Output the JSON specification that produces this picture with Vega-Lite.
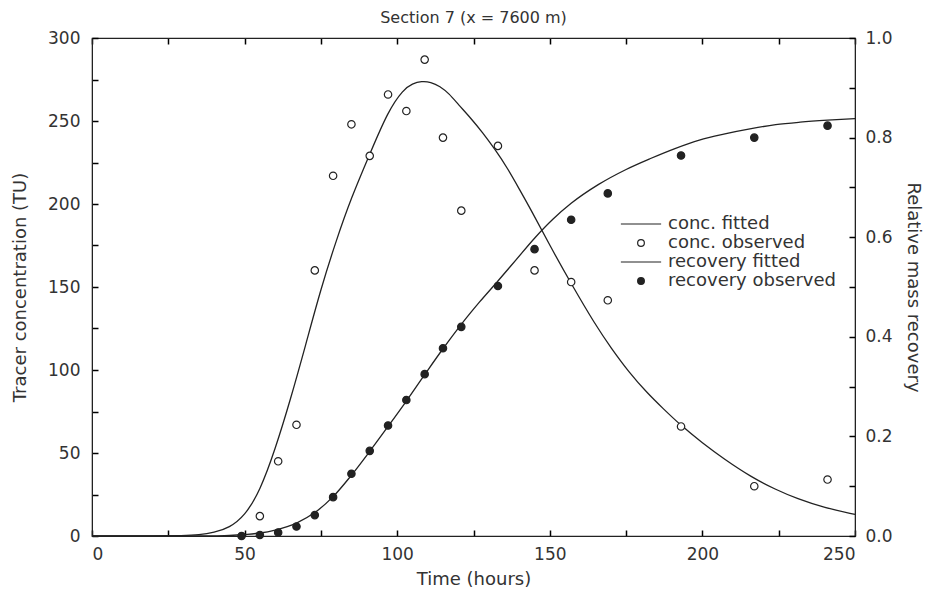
{
  "$schema": "https://vega.github.io/schema/vega-lite/v6.json",
  "width": 763,
  "height": 498,
  "autosize": {"type": "none"},
  "padding": {"left": 92, "top": 38, "right": 74, "bottom": 57},
  "background": "white",
  "title": {"text": "Section 7  (x = 7600 m)", "fontSize": 16, "fontWeight": "normal", "font": "DejaVu Sans", "color": "#333", "offset": 3, "anchor": "middle"},
  "config": {
    "font": "DejaVu Sans",
    "view": {"stroke": "#222", "strokeWidth": 1.2},
    "axis": {
      "labelFont": "DejaVu Sans", "titleFont": "DejaVu Sans",
      "labelFontSize": 17, "titleFontSize": 18, "titleFontWeight": "normal",
      "labelColor": "#333", "titleColor": "#333", "grid": false
    }
  },
  "data": {"values": [
    {"t": 0, "v": 0, "s": "conc. fitted"},
    {"t": 20, "v": 0, "s": "conc. fitted"},
    {"t": 30, "v": 0.2, "s": "conc. fitted"},
    {"t": 35, "v": 0.6, "s": "conc. fitted"},
    {"t": 40, "v": 2, "s": "conc. fitted"},
    {"t": 45, "v": 5, "s": "conc. fitted"},
    {"t": 50, "v": 12, "s": "conc. fitted"},
    {"t": 55, "v": 27, "s": "conc. fitted"},
    {"t": 60, "v": 52, "s": "conc. fitted"},
    {"t": 65, "v": 82, "s": "conc. fitted"},
    {"t": 70, "v": 115, "s": "conc. fitted"},
    {"t": 75, "v": 149, "s": "conc. fitted"},
    {"t": 80, "v": 178, "s": "conc. fitted"},
    {"t": 85, "v": 204, "s": "conc. fitted"},
    {"t": 91, "v": 230, "s": "conc. fitted"},
    {"t": 97, "v": 256, "s": "conc. fitted"},
    {"t": 102, "v": 269, "s": "conc. fitted"},
    {"t": 105, "v": 272.5, "s": "conc. fitted"},
    {"t": 108, "v": 274, "s": "conc. fitted"},
    {"t": 111, "v": 273.5, "s": "conc. fitted"},
    {"t": 114, "v": 271, "s": "conc. fitted"},
    {"t": 117, "v": 266.5, "s": "conc. fitted"},
    {"t": 120, "v": 260, "s": "conc. fitted"},
    {"t": 124, "v": 252, "s": "conc. fitted"},
    {"t": 128, "v": 243, "s": "conc. fitted"},
    {"t": 132, "v": 233, "s": "conc. fitted"},
    {"t": 136, "v": 222, "s": "conc. fitted"},
    {"t": 140, "v": 209, "s": "conc. fitted"},
    {"t": 144, "v": 196, "s": "conc. fitted"},
    {"t": 150, "v": 175, "s": "conc. fitted"},
    {"t": 157, "v": 152, "s": "conc. fitted"},
    {"t": 165, "v": 127, "s": "conc. fitted"},
    {"t": 170, "v": 113.5, "s": "conc. fitted"},
    {"t": 176, "v": 98.5, "s": "conc. fitted"},
    {"t": 182, "v": 86, "s": "conc. fitted"},
    {"t": 187, "v": 77, "s": "conc. fitted"},
    {"t": 193, "v": 66.5, "s": "conc. fitted"},
    {"t": 200, "v": 56, "s": "conc. fitted"},
    {"t": 207, "v": 46.5, "s": "conc. fitted"},
    {"t": 216, "v": 35.5, "s": "conc. fitted"},
    {"t": 224, "v": 28, "s": "conc. fitted"},
    {"t": 231, "v": 22.5, "s": "conc. fitted"},
    {"t": 240, "v": 17, "s": "conc. fitted"},
    {"t": 250, "v": 13, "s": "conc. fitted"},

    {"t": 55, "v": 12, "s": "conc. observed"},
    {"t": 61, "v": 45, "s": "conc. observed"},
    {"t": 67, "v": 67, "s": "conc. observed"},
    {"t": 73, "v": 160, "s": "conc. observed"},
    {"t": 79, "v": 217, "s": "conc. observed"},
    {"t": 85, "v": 248, "s": "conc. observed"},
    {"t": 91, "v": 229, "s": "conc. observed"},
    {"t": 97, "v": 266, "s": "conc. observed"},
    {"t": 103, "v": 256, "s": "conc. observed"},
    {"t": 109, "v": 287, "s": "conc. observed"},
    {"t": 115, "v": 240, "s": "conc. observed"},
    {"t": 121, "v": 196, "s": "conc. observed"},
    {"t": 133, "v": 235, "s": "conc. observed"},
    {"t": 145, "v": 160, "s": "conc. observed"},
    {"t": 157, "v": 153, "s": "conc. observed"},
    {"t": 169, "v": 142, "s": "conc. observed"},
    {"t": 193, "v": 66, "s": "conc. observed"},
    {"t": 217, "v": 30, "s": "conc. observed"},
    {"t": 241, "v": 34, "s": "conc. observed"},

    {"t": 0, "v": 0, "s": "recovery fitted"},
    {"t": 40, "v": 0, "s": "recovery fitted"},
    {"t": 45, "v": 0.001, "s": "recovery fitted"},
    {"t": 50, "v": 0.003, "s": "recovery fitted"},
    {"t": 55, "v": 0.006, "s": "recovery fitted"},
    {"t": 60, "v": 0.012, "s": "recovery fitted"},
    {"t": 67, "v": 0.026, "s": "recovery fitted"},
    {"t": 73, "v": 0.047, "s": "recovery fitted"},
    {"t": 79, "v": 0.079, "s": "recovery fitted"},
    {"t": 85, "v": 0.122, "s": "recovery fitted"},
    {"t": 91, "v": 0.170, "s": "recovery fitted"},
    {"t": 97, "v": 0.220, "s": "recovery fitted"},
    {"t": 103, "v": 0.271, "s": "recovery fitted"},
    {"t": 109, "v": 0.324, "s": "recovery fitted"},
    {"t": 115, "v": 0.376, "s": "recovery fitted"},
    {"t": 121, "v": 0.425, "s": "recovery fitted"},
    {"t": 127, "v": 0.470, "s": "recovery fitted"},
    {"t": 133, "v": 0.512, "s": "recovery fitted"},
    {"t": 139, "v": 0.555, "s": "recovery fitted"},
    {"t": 145, "v": 0.598, "s": "recovery fitted"},
    {"t": 151, "v": 0.636, "s": "recovery fitted"},
    {"t": 157, "v": 0.668, "s": "recovery fitted"},
    {"t": 166, "v": 0.706, "s": "recovery fitted"},
    {"t": 175, "v": 0.736, "s": "recovery fitted"},
    {"t": 183, "v": 0.758, "s": "recovery fitted"},
    {"t": 191, "v": 0.778, "s": "recovery fitted"},
    {"t": 199, "v": 0.795, "s": "recovery fitted"},
    {"t": 207, "v": 0.807, "s": "recovery fitted"},
    {"t": 216, "v": 0.818, "s": "recovery fitted"},
    {"t": 224, "v": 0.826, "s": "recovery fitted"},
    {"t": 232, "v": 0.831, "s": "recovery fitted"},
    {"t": 241, "v": 0.835, "s": "recovery fitted"},
    {"t": 250, "v": 0.838, "s": "recovery fitted"},

    {"t": 49, "v": 0.0, "s": "recovery observed"},
    {"t": 55, "v": 0.002, "s": "recovery observed"},
    {"t": 61, "v": 0.007, "s": "recovery observed"},
    {"t": 67, "v": 0.019, "s": "recovery observed"},
    {"t": 73, "v": 0.042, "s": "recovery observed"},
    {"t": 79, "v": 0.078, "s": "recovery observed"},
    {"t": 85, "v": 0.125, "s": "recovery observed"},
    {"t": 91, "v": 0.171, "s": "recovery observed"},
    {"t": 97, "v": 0.222, "s": "recovery observed"},
    {"t": 103, "v": 0.273, "s": "recovery observed"},
    {"t": 109, "v": 0.325, "s": "recovery observed"},
    {"t": 115, "v": 0.377, "s": "recovery observed"},
    {"t": 121, "v": 0.420, "s": "recovery observed"},
    {"t": 133, "v": 0.502, "s": "recovery observed"},
    {"t": 145, "v": 0.576, "s": "recovery observed"},
    {"t": 157, "v": 0.635, "s": "recovery observed"},
    {"t": 169, "v": 0.688, "s": "recovery observed"},
    {"t": 193, "v": 0.764, "s": "recovery observed"},
    {"t": 217, "v": 0.800, "s": "recovery observed"},
    {"t": 241, "v": 0.824, "s": "recovery observed"}
  ]},
  "layer": [
    {
      "layer": [
        {
          "transform": [{"filter": "datum.s == 'conc. fitted'"}],
          "mark": {"type": "line", "color": "#222", "strokeWidth": 1.3, "interpolate": "basis"},
          "encoding": {
            "x": {"field": "t", "type": "quantitative", "scale": {"domain": [0, 250], "nice": false},
              "axis": {"title": "Time (hours)", "values": [0, 25, 50, 75, 100, 125, 150, 175, 200, 225, 250],
                "labelExpr": "datum.value % 50 == 0 ? datum.label : ''",
                "domainColor": "#222", "tickSize": -6, "tickColor": "#000", "tickWidth": 1.5,
                "labelPadding": 16, "titlePadding": 8}},
            "y": {"field": "v", "type": "quantitative", "scale": {"domain": [0, 300], "nice": false},
              "axis": {"title": "Tracer concentration (TU)", "values": [0, 25, 50, 75, 100, 125, 150, 175, 200, 225, 250, 275, 300],
                "labelExpr": "datum.value % 50 == 0 ? datum.label : ''",
                "domainColor": "#222", "tickSize": -6, "tickColor": "#000", "tickWidth": 1.5,
                "labelPadding": 18, "titlePadding": 18}}
          }
        },
        {
          "transform": [{"filter": "datum.s == 'conc. observed'"}],
          "mark": {"type": "point", "filled": true, "strokeWidth": 1.2, "size": 55, "opacity": 1},
          "encoding": {
            "x": {"field": "t", "type": "quantitative"},
            "y": {"field": "v", "type": "quantitative"},
            "shape": {"field": "s", "type": "nominal",
              "scale": {"domain": ["conc. fitted", "conc. observed", "recovery fitted", "recovery observed"], "range": ["M-6,0L6,0", "circle", "M-6,0L6,0", "circle"]},
              "legend": {"title": null, "orient": "none", "legendX": 540, "legendY": 177, "labelFontSize": 18, "labelFont": "DejaVu Sans", "labelColor": "#333", "labelLimit": 400, "symbolSize": 45, "symbolStrokeWidth": 1.2, "rowPadding": 1, "labelOffset": 18, "padding": 0}},
            "fill": {"field": "s", "type": "nominal",
              "scale": {"domain": ["conc. fitted", "conc. observed", "recovery fitted", "recovery observed"], "range": ["#222", "white", "#222", "#222"]},
              "legend": {"title": null, "orient": "none", "legendX": 540, "legendY": 177, "labelFontSize": 18, "labelFont": "DejaVu Sans", "labelColor": "#333", "labelLimit": 400, "symbolSize": 45, "symbolStrokeWidth": 1.2, "rowPadding": 1, "labelOffset": 18, "padding": 0}},
            "stroke": {"field": "s", "type": "nominal",
              "scale": {"domain": ["conc. fitted", "conc. observed", "recovery fitted", "recovery observed"], "range": ["#222", "#222", "#222", "#222"]},
              "legend": {"title": null, "orient": "none", "legendX": 540, "legendY": 177, "labelFontSize": 18, "labelFont": "DejaVu Sans", "labelColor": "#333", "labelLimit": 400, "symbolSize": 45, "symbolStrokeWidth": 1.2, "rowPadding": 1, "labelOffset": 18, "padding": 0}}
          }
        }
      ]
    },
    {
      "layer": [
        {
          "transform": [{"filter": "datum.s == 'recovery fitted'"}],
          "mark": {"type": "line", "color": "#222", "strokeWidth": 1.3, "interpolate": "monotone"},
          "encoding": {
            "x": {"field": "t", "type": "quantitative",
              "axis": {"orient": "top", "title": null, "labels": false, "values": [0, 25, 50, 75, 100, 125, 150, 175, 200, 225, 250],
                "domainColor": "#222", "tickSize": -6, "tickColor": "#000", "tickWidth": 1.5}},
            "y": {"field": "v", "type": "quantitative", "scale": {"domain": [0, 1], "nice": false},
              "axis": {"orient": "right", "title": "Relative mass recovery", "values": [0, 0.1, 0.2, 0.3, 0.4, 0.5, 0.6, 0.7, 0.8, 0.9, 1.0],
                "labelExpr": "abs(datum.value * 5 - round(datum.value * 5)) < 0.001 ? format(datum.value, '.1f') : ''",
                "domainColor": "#222", "tickSize": -6, "tickColor": "#000", "tickWidth": 1.5,
                "labelPadding": 16, "titlePadding": 11}}
          }
        },
        {
          "transform": [{"filter": "datum.s == 'recovery observed'"}],
          "mark": {"type": "point", "filled": true, "strokeWidth": 1.2, "size": 55, "opacity": 1},
          "encoding": {
            "x": {"field": "t", "type": "quantitative"},
            "y": {"field": "v", "type": "quantitative"},
            "shape": {"field": "s", "type": "nominal",
              "scale": {"domain": ["conc. fitted", "conc. observed", "recovery fitted", "recovery observed"], "range": ["M-6,0L6,0", "circle", "M-6,0L6,0", "circle"]}},
            "fill": {"field": "s", "type": "nominal",
              "scale": {"domain": ["conc. fitted", "conc. observed", "recovery fitted", "recovery observed"], "range": ["#222", "white", "#222", "#222"]}},
            "stroke": {"field": "s", "type": "nominal",
              "scale": {"domain": ["conc. fitted", "conc. observed", "recovery fitted", "recovery observed"], "range": ["#222", "#222", "#222", "#222"]}}
          }
        }
      ]
    }
  ],
  "resolve": {"scale": {"y": "independent"}, "axis": {"x": "independent"}}
}
